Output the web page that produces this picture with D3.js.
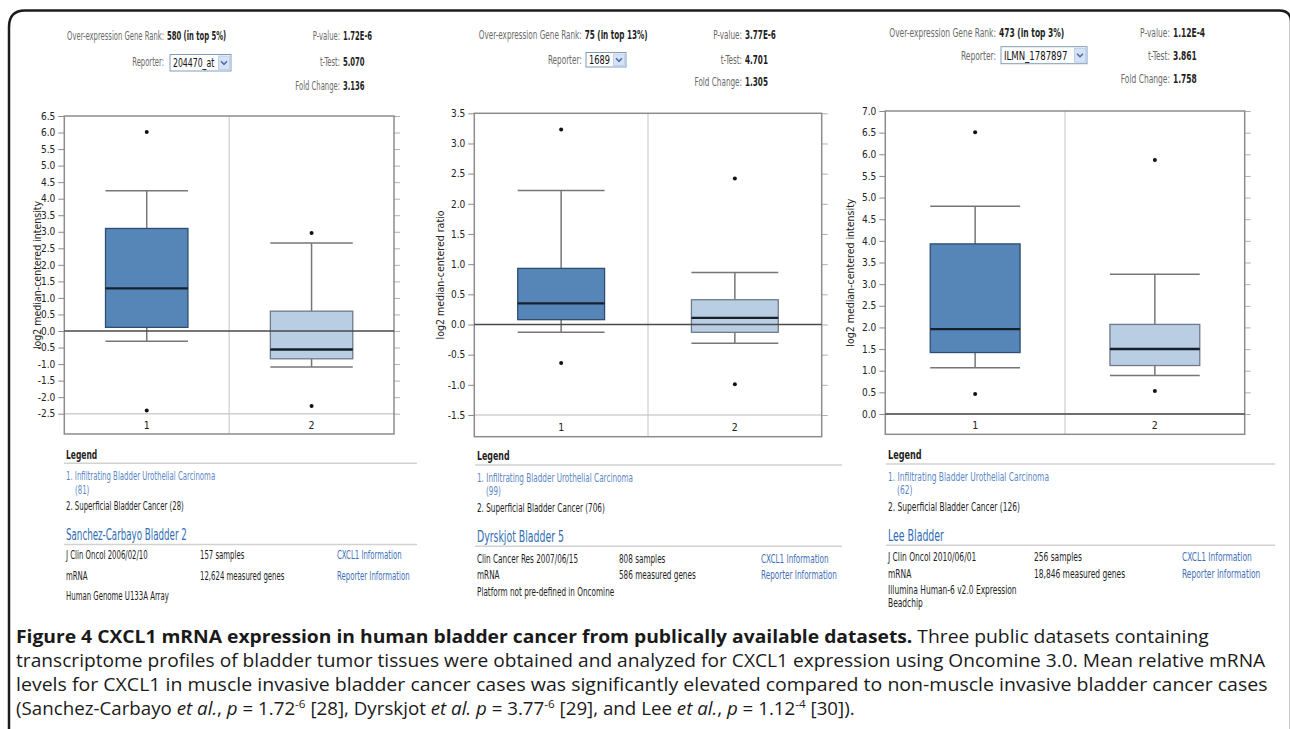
<!DOCTYPE html>
<html>
<head>
<meta charset="utf-8">
<script src="https://cdn.jsdelivr.net/npm/d3@7"></script>
<style>
  body { margin: 0; background: #fff; }
  svg { display: block; }
</style>
</head>
<body>
<script>
// ---- data ----
const groups = ["1", "2"];
const datasetNames = ["Sanchez-Carbayo Bladder 2", "Dyrskjot Bladder 5", "Lee Bladder"];
const yDomains = [[-2.5, 6.5], [-1.5, 3.5], [0, 7]];
const yTitles = ["log2 median-centered intensity", "log2 median-centered ratio", "log2 median-centered intensity"];

// box statistics, [group1, group2] per dataset
const whiskerLow  = [[-0.31, -1.09], [-0.13, -0.31], [1.07, 0.89]];
const quartile1   = [[0.11, -0.84],  [0.08, -0.13],  [1.42, 1.12]];
const medians     = [[1.29, -0.56],  [0.35, 0.11],   [1.96, 1.50]];
const quartile3   = [[3.10, 0.60],   [0.93, 0.41],   [3.93, 2.07]];
const whiskerHigh = [[4.24, 2.66],   [2.22, 0.86],   [4.80, 3.23]];
const outliers    = [[[6.02, -2.40], [2.96, -2.27]],
                     [[3.23, -0.64], [2.42, -0.99]],
                     [[6.51, 0.46],  [5.87, 0.53]]];

const geneRanks   = ["580 (in top 5%)", "75 (in top 13%)", "473 (in top 3%)"];
const reporters   = ["204470_at", "1689", "ILMN_1787897"];
const pValues     = ["1.72E-6", "3.77E-6", "1.12E-4"];
const tTests      = ["5.070", "4.701", "3.861"];
const foldChanges = ["3.136", "1.305", "1.758"];

const group1Counts = [81, 99, 62];
const group2Counts = [28, 706, 126];
const journals   = ["J Clin Oncol 2006/02/10", "Clin Cancer Res 2007/06/15", "J Clin Oncol 2010/06/01"];
const samples    = ["157 samples", "808 samples", "256 samples"];
const genesMeasured = ["12,624 measured genes", "586 measured genes", "18,846 measured genes"];
const platforms  = [["Human Genome U133A Array"], ["Platform not pre-defined in Oncomine"],
                    ["Illumina Human-6 v2.0 Expression", " Beadchip"]];

const captionLines = [
  [{t: "Figure 4 CXCL1 mRNA expression in human bladder cancer from publically available datasets.", b: 1},
   {t: " Three public datasets containing"}],
  [{t: "transcriptome profiles of bladder tumor tissues were obtained and analyzed for CXCL1 expression using Oncomine 3.0. Mean relative mRNA"}],
  [{t: "levels for CXCL1 in muscle invasive bladder cancer cases was significantly elevated compared to non-muscle invasive bladder cancer cases"}],
  [{t: "(Sanchez-Carbayo "}, {t: "et al.", i: 1}, {t: ", "}, {t: "p", i: 1}, {t: " = 1.72"}, {t: "-6", sup: 1},
   {t: " [28], Dyrskjot "}, {t: "et al.", i: 1}, {t: " "}, {t: "p", i: 1}, {t: " = 3.77"}, {t: "-6", sup: 1},
   {t: " [29], and Lee "}, {t: "et al.", i: 1}, {t: ", "}, {t: "p", i: 1}, {t: " = 1.12"}, {t: "-4", sup: 1},
   {t: " [30])."}]
];

// ---- layout (pixel positions of each pasted screenshot) ----
const layout = [
  {left: 64.3, right: 394, top: 116, bottom: 413.7, frameBottom: 434, titleX: 37,
   hdrRight: 164, statsRight: 340, rows: [36, 62, 86], sel: {x: 170, y: 54.5, w: 61, h: 16.5}, rankW: 97,
   legX: 66, legRight: 417, legY: 454, col2: 200, col3: 337, rowStart: 101, rowGap: 20.5, item2W: 118, nameW: 121},
  {left: 474.3, right: 821.7, top: 113.3, bottom: 415, frameBottom: 436.7, titleX: 440.7,
   hdrRight: 581.7, statsRight: 742, rows: [35, 59.5, 82], sel: {x: 586, y: 52.5, w: 40, h: 14.5}, rankW: 103,
   legX: 477, legRight: 842, legY: 455.7, col2: 619, col3: 761, rowStart: 102.6, rowGap: 16.7, item2W: 128, nameW: 87},
  {left: 885.3, right: 1244.7, top: 111, bottom: 414, frameBottom: 434.3, titleX: 850.7,
   hdrRight: 996, statsRight: 1170, rows: [33, 55.5, 79], sel: {x: 1001, y: 46.7, w: 86, h: 17}, rankW: 107,
   legX: 888, legRight: 1275, legY: 454.7, col2: 1034, col3: 1182, rowStart: 102, rowGap: 16.7, item2W: 132, nameW: 56}
];

const UI_FONT = "'DejaVu Sans Condensed', 'DejaVu Sans', sans-serif";
const CAP_FONT = "'Open Sans', 'Noto Sans', sans-serif";

const width = 1290, height = 729;
const svg = d3.select("body").append("svg")
  .attr("width", width)
  .attr("height", height)
  .attr("viewBox", [0, 0, width, height]);

// outer frame with rounded top corners (right edge runs off the picture)
svg.append("path")
  .attr("d", "M9,729 L9,27 Q9,10.5 25,10.5 L1279,10.5 Q1291,10.5 1291,22 L1291,729")
  .attr("fill", "none")
  .attr("stroke", "#1c1c1c")
  .attr("stroke-width", 2.5);

function measure(str, size, weight, family) {
  const t = svg.append("text")
    .style("font-family", family || UI_FONT)
    .style("font-size", size + "px")
    .style("font-weight", weight || "normal")
    .text(str);
  const w = t.node().getComputedTextLength();
  t.remove();
  return w;
}

function label(g, x, y, str, o) {
  o = o || {};
  return g.append("text")
    .attr("transform", `translate(${x},${y}) scale(${o.sx || 1},1)`)
    .attr("dy", "0.35em")
    .attr("text-anchor", o.anchor || "start")
    .style("font-family", o.family || UI_FONT)
    .style("font-size", (o.size || 12) + "px")
    .style("font-weight", o.weight || "normal")
    .attr("fill", o.color || "#222")
    .text(str);
}

const fmt = d => d.toFixed(1);

layout.forEach(function(p, i) {
  const g = svg.append("g");

  // ---- header ----
  const hs = p.rankW / measure("Over-expression Gene Rank:", 12);
  label(g, p.hdrRight, p.rows[0], "Over-expression Gene Rank:", {anchor: "end", sx: hs, color: "#6a6a6a"});
  label(g, p.hdrRight + 3, p.rows[0], geneRanks[i], {sx: hs, weight: "bold", color: "#1e1e1e"});
  label(g, p.hdrRight, p.rows[1], "Reporter:", {anchor: "end", sx: hs, color: "#6a6a6a"});

  const s = p.sel;
  g.append("rect")
    .attr("x", s.x).attr("y", s.y).attr("width", s.w).attr("height", s.h)
    .attr("fill", "#fff").attr("stroke", "#7f9db9").attr("stroke-width", 1);
  label(g, s.x + 3, s.y + s.h / 2, reporters[i], {sx: hs * 1.05, size: 13, color: "#111"});
  g.append("rect")
    .attr("x", s.x + s.w - 12.5).attr("y", s.y + 1.5).attr("width", 11).attr("height", s.h - 3)
    .attr("fill", "#d5e2f7").attr("stroke", "#b4c7e7").attr("stroke-width", 0.8);
  const cx = s.x + s.w - 7, cy = s.y + s.h / 2;
  g.append("path")
    .attr("d", `M${cx - 3},${cy - 1.5} L${cx},${cy + 1.5} L${cx + 3},${cy - 1.5}`)
    .attr("fill", "none").attr("stroke", "#4c6ea8").attr("stroke-width", 1.6);

  [["P-value:", pValues[i]], ["t-Test:", tTests[i]], ["Fold Change:", foldChanges[i]]].forEach(function(r, k) {
    label(g, p.statsRight, p.rows[k], r[0], {anchor: "end", sx: hs, color: "#6a6a6a"});
    label(g, p.statsRight + 3, p.rows[k], r[1], {sx: hs, weight: "bold", color: "#1e1e1e"});
  });

  // ---- box plot ----
  const x = d3.scaleBand()
    .domain(groups)
    .range([p.left, p.right])
    .paddingInner(0.5)
    .paddingOuter(0.25);

  const y = d3.scaleLinear()
    .domain(yDomains[i])
    .range([p.bottom, p.top]);

  const ticks = d3.range(yDomains[i][0], yDomains[i][1] + 0.01, 0.5);

  // bottom grid line at the lowest tick
  g.append("line")
    .attr("x1", p.left).attr("x2", p.right)
    .attr("y1", y(yDomains[i][0])).attr("y2", y(yDomains[i][0]))
    .attr("stroke", "#cfcfcf").attr("stroke-width", 1.5);

  // divider between the two groups
  g.append("line")
    .attr("x1", (p.left + p.right) / 2).attr("x2", (p.left + p.right) / 2)
    .attr("y1", p.top).attr("y2", p.frameBottom)
    .attr("stroke", "#c4c4c4").attr("stroke-width", 1);

  g.append("g")
    .attr("transform", `translate(${p.left},0)`)
    .call(d3.axisLeft(y).tickValues(ticks).tickFormat(fmt).tickSize(6).tickPadding(3))
    .call(a => a.select(".domain").remove())
    .call(a => a.selectAll(".tick line").attr("stroke", "#8a8a8a"))
    .call(a => a.selectAll(".tick text")
      .style("font-family", UI_FONT).style("font-size", "10px").attr("fill", "#222"));

  g.append("g")
    .attr("transform", `translate(${p.right},0)`)
    .call(d3.axisRight(y).tickValues(ticks).tickFormat("").tickSize(6))
    .call(a => a.select(".domain").remove())
    .call(a => a.selectAll(".tick line").attr("stroke", "#b0b0b0"));

  g.append("rect")
    .attr("x", p.left).attr("y", p.top)
    .attr("width", p.right - p.left).attr("height", p.frameBottom - p.top)
    .attr("fill", "none").attr("stroke", "#8c8c8c").attr("stroke-width", 1.5);

  g.append("text")
    .attr("transform", `translate(${p.titleX},${(p.top + p.frameBottom) / 2}) rotate(-90)`)
    .attr("text-anchor", "middle")
    .attr("dy", "0.35em")
    .style("font-family", UI_FONT)
    .style("font-size", "10.5px")
    .attr("fill", "#222")
    .text(yTitles[i]);

  const boxFill = ["#5686b7", "#b9cde3"],
        boxStroke = ["#2d4d72", "#6f7b88"];

  groups.forEach(function(grp, j) {
    const x0 = x(grp), bw = x.bandwidth(), xc = x0 + bw / 2;
    const bg = g.append("g");

    bg.append("line")
      .attr("x1", xc).attr("x2", xc)
      .attr("y1", y(whiskerHigh[i][j])).attr("y2", y(quartile3[i][j]))
      .attr("stroke", "#767676").attr("stroke-width", 1.5);
    bg.append("line")
      .attr("x1", xc).attr("x2", xc)
      .attr("y1", y(quartile1[i][j])).attr("y2", y(whiskerLow[i][j]))
      .attr("stroke", "#767676").attr("stroke-width", 1.5);

    [whiskerHigh[i][j], whiskerLow[i][j]].forEach(function(v) {
      bg.append("line")
        .attr("x1", x0).attr("x2", x0 + bw)
        .attr("y1", y(v)).attr("y2", y(v))
        .attr("stroke", "#767676").attr("stroke-width", 1.5);
    });

    bg.append("rect")
      .attr("x", x0).attr("y", y(quartile3[i][j]))
      .attr("width", bw).attr("height", y(quartile1[i][j]) - y(quartile3[i][j]))
      .attr("fill", boxFill[j]).attr("stroke", boxStroke[j]).attr("stroke-width", 1.3);

    bg.selectAll("circle")
      .data(outliers[i][j])
      .join("circle")
        .attr("cx", xc)
        .attr("cy", d => y(d))
        .attr("r", 2)
        .attr("fill", "#111");

    g.append("text")
      .attr("x", xc)
      .attr("y", (y(yDomains[i][0]) + p.frameBottom) / 2 + 1)
      .attr("dy", "0.35em")
      .attr("text-anchor", "middle")
      .style("font-family", UI_FONT)
      .style("font-size", "10.5px")
      .attr("fill", "#222")
      .text(grp);
  });

  // zero line sits above the boxes
  g.append("line")
    .attr("x1", p.left).attr("x2", p.right)
    .attr("y1", y(0)).attr("y2", y(0))
    .attr("stroke", "#4a4a4a").attr("stroke-width", 1.3);

  groups.forEach(function(grp, j) {
    g.append("line")
      .attr("x1", x(grp)).attr("x2", x(grp) + x.bandwidth())
      .attr("y1", y(medians[i][j])).attr("y2", y(medians[i][j]))
      .attr("stroke", "#16202c").attr("stroke-width", 2.4);
  });

  // ---- legend & dataset info ----
  const item2 = "2. Superficial Bladder Cancer (" + group2Counts[i] + ")";
  const ls = p.item2W / measure(item2, 12);
  const L = p.legY;

  label(g, p.legX, L, "Legend", {sx: ls, size: 13, weight: "bold", color: "#1e1e1e"});
  g.append("line")
    .attr("x1", p.legX - 2).attr("x2", p.legRight)
    .attr("y1", L + 9.3).attr("y2", L + 9.3)
    .attr("stroke", "#d2d2d2").attr("stroke-width", 1.5);
  label(g, p.legX, L + 22, "1. Infiltrating Bladder Urothelial Carcinoma", {sx: ls, color: "#5b88c4"});
  label(g, p.legX + 9, L + 35.5, "(" + group1Counts[i] + ")", {sx: ls, color: "#5b88c4"});
  label(g, p.legX, L + 52, item2, {sx: ls, color: "#1e1e1e"});

  const ns = p.nameW / measure(datasetNames[i], 15.5);
  label(g, p.legX, L + 80.5, datasetNames[i], {sx: ns, size: 15.5, color: "#2f6db5"});
  g.append("line")
    .attr("x1", p.legX - 2).attr("x2", p.legRight)
    .attr("y1", L + 90.5).attr("y2", L + 90.5)
    .attr("stroke", "#d2d2d2").attr("stroke-width", 1.5);

  const r0 = L + p.rowStart;
  label(g, p.legX, r0, journals[i], {sx: ls, color: "#1e1e1e"});
  label(g, p.col2, r0, samples[i], {sx: ls, color: "#1e1e1e"});
  label(g, p.col3, r0, "CXCL1 Information", {sx: ls, color: "#3f70b6"});
  label(g, p.legX, r0 + p.rowGap, "mRNA", {sx: ls, color: "#1e1e1e"});
  label(g, p.col2, r0 + p.rowGap, genesMeasured[i], {sx: ls, color: "#1e1e1e"});
  label(g, p.col3, r0 + p.rowGap, "Reporter Information", {sx: ls, color: "#3f70b6"});
  platforms[i].forEach(function(line, k) {
    label(g, p.legX, r0 + 2 * p.rowGap + k * 12.7, line, {sx: ls, color: "#1e1e1e"});
  });
});

// ---- caption ----
const capX = 16,
      capEnds = [1210, 1266, 1268, 855],
      capBase = [643, 667, 691, 715];

captionLines.forEach(function(parts, k) {
  const t = svg.append("text")
    .style("font-family", CAP_FONT)
    .style("font-size", "18.5px")
    .attr("fill", "#1a1a1a");
  let shifted = false;
  parts.forEach(function(pt) {
    const sp = t.append("tspan").text(pt.t);
    if (pt.b) sp.style("font-weight", "bold");
    if (pt.i) sp.style("font-style", "italic");
    if (pt.sup) {
      sp.attr("dy", -7).style("font-size", "11.5px");
      shifted = true;
    } else if (shifted) {
      sp.attr("dy", 7);
      shifted = false;
    }
  });
  const w = t.node().getComputedTextLength();
  t.attr("transform", `translate(${capX},${capBase[k]}) scale(${(capEnds[k] - capX) / w},1)`);
});
</script>
</body>
</html>
